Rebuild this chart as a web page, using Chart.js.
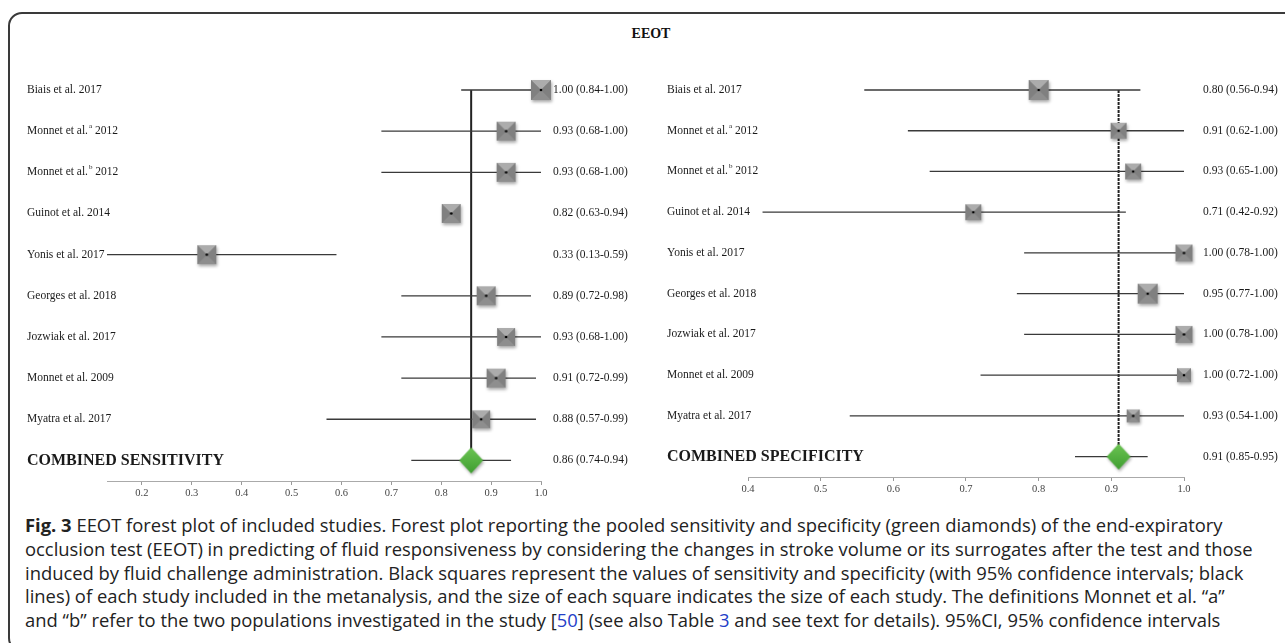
<!DOCTYPE html>
<html>
<head>
<meta charset="utf-8">
<script src="https://cdn.jsdelivr.net/npm/chart.js@4.4.1/dist/chart.umd.min.js"></script>
<style>
body { margin:0; background:#fff; width:1285px; height:643px; overflow:hidden; position:relative; }
#frame { position:absolute; left:8px; top:12px; width:1300px; height:640px; border:2px solid #3a3a3a; border-radius:14px; box-sizing:border-box; }
#title { position:absolute; left:0; width:1302px; top:26px; text-align:center; font:bold 14px "Liberation Serif"; color:#111; }
canvas { position:absolute; top:0; }
#left { left:0; }
#right { left:640px; }
#caption { position:absolute; left:25px; top:513px; font-family:"Open Sans"; font-size:18.4px; line-height:23.8px; color:#222; white-space:nowrap; }
#caption b { font-weight:700; }
#caption span.lnk { color:#2440c8; }
</style>
</head>
<body>
<div id="frame"></div>
<div id="title">EEOT</div>
<canvas id="left" width="640" height="505"></canvas>
<canvas id="right" width="645" height="505"></canvas>
<div id="caption">
<div><b>Fig. 3</b> EEOT forest plot of included studies. Forest plot reporting the pooled sensitivity and specificity (green diamonds) of the end-expiratory</div>
<div>occlusion test (EEOT) in predicting of fluid responsiveness by considering the changes in stroke volume or its surrogates after the test and those</div>
<div>induced by fluid challenge administration. Black squares represent the values of sensitivity and specificity (with 95% confidence intervals; black</div>
<div>lines) of each study included in the metanalysis, and the size of each square indicates the size of each study. The definitions Monnet et al. “a”</div>
<div>and “b” refer to the two populations investigated in the study [<span class="lnk">50</span>] (see also Table <span class="lnk">3</span> and see text for details). 95%CI, 95% confidence intervals</div>
</div>
<script>
// studies, same order in both panels
var studies = ['Biais et al. 2017', 'Monnet et al.^a 2012', 'Monnet et al.^b 2012', 'Guinot et al. 2014',
    'Yonis et al. 2017', 'Georges et al. 2018', 'Jozwiak et al. 2017', 'Monnet et al. 2009', 'Myatra et al. 2017'];

// sensitivity (left)
var sensEst  = [1.00, 0.93, 0.93, 0.82, 0.33, 0.89, 0.93, 0.91, 0.88];
var sensLow  = [0.84, 0.68, 0.68, 0.63, 0.13, 0.72, 0.68, 0.72, 0.57];
var sensHigh = [1.00, 1.00, 1.00, 0.94, 0.59, 0.98, 1.00, 0.99, 0.99];
var sensWeight = [20, 19, 19, 19, 19, 19, 18, 19, 18];
var sensCombined = [0.86, 0.74, 0.94];
var sensNoLine = ['Guinot et al. 2014']; // no CI line drawn for it in the original
var sensTicks = [0.2, 0.3, 0.4, 0.5, 0.6, 0.7, 0.8, 0.9, 1.0];

// specificity (right)
var specEst  = [0.80, 0.91, 0.93, 0.71, 1.00, 0.95, 1.00, 1.00, 0.93];
var specLow  = [0.56, 0.62, 0.65, 0.42, 0.78, 0.77, 0.78, 0.72, 0.54];
var specHigh = [0.94, 1.00, 1.00, 0.92, 1.00, 1.00, 1.00, 1.00, 1.00];
var specWeight = [20, 16, 16, 16, 17, 20, 17, 14, 13];
var specCombined = [0.91, 0.85, 0.95];
var specTicks = [0.4, 0.5, 0.6, 0.7, 0.8, 0.9, 1.0];

var SERIF = '"Liberation Serif", "DejaVu Serif", serif';

function tri(g, x1, y1, x2, y2, x3, y3, col) {
    g.fillStyle = col;
    g.beginPath(); g.moveTo(x1, y1); g.lineTo(x2, y2); g.lineTo(x3, y3); g.closePath(); g.fill();
}

// grey "pyramid" square with a dot in the middle
function makeSquare(s) {
    var pad = 5, c = document.createElement('canvas');
    c.width = c.height = s + pad * 2;
    var g = c.getContext('2d'), a = pad, b = pad + s, m = pad + s / 2;
    g.shadowColor = 'rgba(0,0,0,0.35)'; g.shadowBlur = 3; g.shadowOffsetX = 1; g.shadowOffsetY = 2;
    g.fillStyle = '#888'; g.fillRect(a, a, s, s);
    g.shadowColor = 'transparent';
    tri(g, a, a, b, a, m, m, '#acacac');
    tri(g, a, b, b, b, m, m, '#8e8e8e');
    tri(g, a, a, a, b, m, m, '#808080');
    tri(g, b, a, b, b, m, m, '#808080');
    g.fillStyle = '#000'; g.beginPath(); g.arc(m, m, 1.3, 0, Math.PI * 2); g.fill();
    return c;
}

function makeDiamond(w, h) {
    var pad = 5, c = document.createElement('canvas');
    c.width = w + pad * 2; c.height = h + pad * 2;
    var g = c.getContext('2d'), cx = c.width / 2, cy = c.height / 2;
    var grad = g.createLinearGradient(0, pad, 0, pad + h);
    grad.addColorStop(0, '#6cc453'); grad.addColorStop(1, '#3f9e31');
    g.shadowColor = 'rgba(0,0,0,0.3)'; g.shadowBlur = 3; g.shadowOffsetX = 1; g.shadowOffsetY = 2;
    g.fillStyle = grad;
    g.beginPath(); g.moveTo(cx, cy - h / 2); g.lineTo(cx + w / 2, cy); g.lineTo(cx, cy + h / 2); g.lineTo(cx - w / 2, cy); g.closePath(); g.fill();
    return c;
}

var rowText = {
    id: 'rowText',
    afterDraw: function(chart) {
        var o = chart.options.plugins.rowText;
        var ctx = chart.ctx, y = chart.scales.y, area = chart.chartArea;
        var normal = '11.5px ' + SERIF;
        ctx.save();
        ctx.fillStyle = '#1a1a1a';
        ctx.textBaseline = 'middle';
        o.names.forEach(function(name, i) {
            var py = y.getPixelForValue(i);
            var last = i == o.names.length - 1;
            ctx.font = last ? 'bold 16px ' + SERIF : normal;
            var parts = name.split('^');
            var x = o.nameX;
            ctx.fillText(parts[0], x, py);
            if (parts.length > 1) {
                x += ctx.measureText(parts[0]).width + o.supGap;
                ctx.font = '7px ' + SERIF;
                ctx.fillText(parts[1][0], x, py - 5);
                x += ctx.measureText(parts[1][0]).width;
                ctx.font = normal;
                ctx.fillText(parts[1].slice(1), x, py);
            }
            ctx.font = normal;
            ctx.fillText(o.values[i], area.right + o.valueGap, py);
        });
        ctx.restore();
    }
};

function fmt(e, l, h) {
    return e.toFixed(2) + ' (' + l.toFixed(2) + '-' + h.toFixed(2) + ')';
}

function forest(id, est, low, high, weight, comb, ticks, noLine, combLabel, pad, bottomAt, supGap, valueGap, dash) {
    var n = est.length;
    var pts = est.map(function(v, i) { return {x: v, y: i}; });
    var imgs = weight.map(function(w) { return makeSquare(w); });
    var ci = [];
    for (var i = 0; i < n; i++) {
        if (noLine.indexOf(studies[i]) < 0) ci.push({x: low[i], y: i}, {x: high[i], y: i});
        ci.push({x: null, y: null});
    }
    ci.push({x: comb[1], y: n}, {x: comb[2], y: n});
    var names = studies.concat([combLabel]);
    var values = est.map(function(v, i) { return fmt(v, low[i], high[i]); }).concat([fmt(comb[0], comb[1], comb[2])]);

    var chart = new Chart(document.getElementById(id), {
        type: 'scatter',
        data: {
            datasets: [{
                data: [{x: comb[0], y: n}],
                pointStyle: makeDiamond(24, 26), pointRadius: 10,
                clip: false, order: 0
            }, {
                data: pts,
                pointStyle: function(c) { return imgs[c.dataIndex]; }, pointRadius: 10,
                clip: false, order: 1
            }, {
                data: ci, showLine: true, pointRadius: 0, spanGaps: false,
                borderColor: '#3a3a3a', borderWidth: 1.3, clip: false, order: 3
            }, {
                data: [{x: comb[0], y: 0}, {x: comb[0], y: n}], showLine: true, pointRadius: 0,
                borderColor: '#222', borderWidth: 2, borderDash: dash, clip: false, order: 4
            }]
        },
        plugins: [rowText],
        options: {
            responsive: false,
            animation: false,
            events: [],
            layout: { padding: { left: pad[0], right: pad[1], top: 90, bottom: 10 } },
            scales: {
                x: {
                    type: 'linear',
                    min: ticks[0] - (id == 'left' ? 0.07 : 0), max: 1.0,
                    afterBuildTicks: function(s) { s.ticks = ticks.map(function(v) { return {value: v}; }); },
                    ticks: {
                        callback: function(v) { return v.toFixed(1); },
                        font: { family: SERIF, size: 10.5 }, color: '#444', padding: 2
                    },
                    grid: { drawOnChartArea: false, drawTicks: true, tickLength: 4, color: '#999' },
                    border: { display: true, color: '#aaa', width: 1 }
                },
                y: { type: 'linear', reverse: true, min: 0, max: n + 0.5, display: false }
            },
            plugins: {
                legend: { display: false },
                tooltip: { enabled: false },
                rowText: { names: names, values: values, nameX: 27, supGap: 1, valueGap: valueGap }
            }
        }
    });
    // put the axis line where the reference has it
    var diff = chart.chartArea.bottom - bottomAt;
    chart.options.layout.padding.bottom += diff;
    chart.update();
    return chart;
}

forest('left', sensEst, sensLow, sensHigh, sensWeight, sensCombined, sensTicks, sensNoLine,
    'COMBINED SENSITIVITY', [107, 99], 481, 1, 12, []);
forest('right', specEst, specLow, specHigh, specWeight, specCombined, specTicks, [],
    'COMBINED SPECIFICITY', [108, 101], 477, 4, 19, [3, 1]);
</script>
</body>
</html>
